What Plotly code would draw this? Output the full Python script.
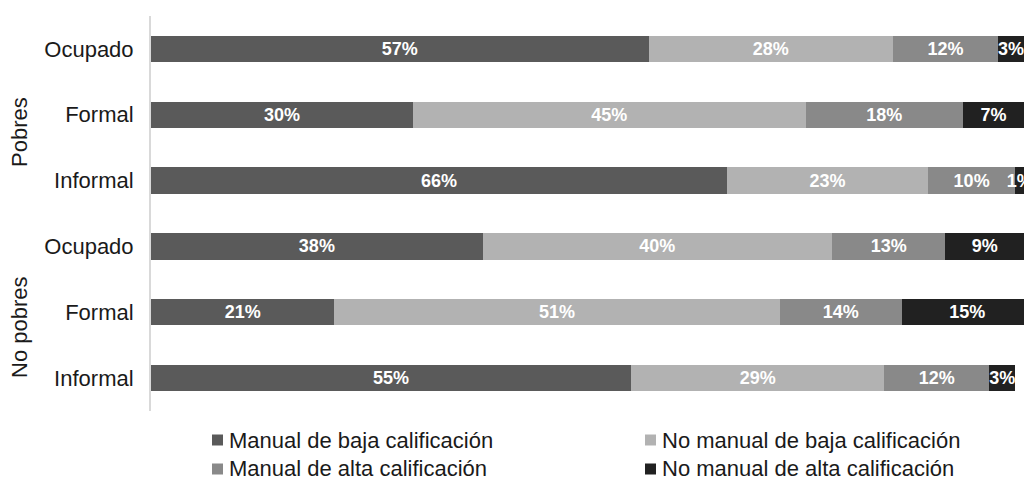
import plotly.graph_objects as go

# Occupational structure of workers, by poverty status and labour formality (%)
groups = ["Pobres", "No pobres"]
categories = ["Ocupado", "Formal", "Informal"]

series_names = [
    "Manual de baja calificación",
    "No manual de baja calificación",
    "Manual de alta calificación",
    "No manual de alta calificación",
]
series_colors = ["#5a5a5a", "#b2b2b2", "#898989", "#212121"]

# rows: Pobres (Ocupado, Formal, Informal), No pobres (Ocupado, Formal, Informal)
manual_baja = [57, 30, 66, 38, 21, 55]
no_manual_baja = [28, 45, 23, 40, 51, 29]
manual_alta = [12, 18, 10, 13, 14, 12]
no_manual_alta = [3, 7, 1, 9, 15, 3]

series_values = [manual_baja, no_manual_baja, manual_alta, no_manual_alta]

row_keys = [f"{g}|{c}" for g in groups for c in categories]
row_text = [c for g in groups for c in categories]

FONT = "Liberation Sans, Arial, sans-serif"
W, H = 1027, 483
L, R, T, B = 151, 3, 16, 72
PW, PH = W - L - R, H - T - B


def px_x(px):
    return (px - L) / PW


def px_y(py):
    return (H - B - py) / PH


fig = go.Figure()
for name, color, vals in zip(series_names, series_colors, series_values):
    fig.add_trace(go.Bar(
        y=row_keys,
        x=vals,
        name=name,
        orientation="h",
        marker=dict(color=color, line=dict(width=0)),
        texttemplate="%{x}%",
        textposition="inside",
        insidetextanchor="middle",
        textangle=0,
        insidetextfont=dict(family=FONT, size=18, color="white", weight="bold"),
        cliponaxis=True,
        showlegend=False,
        hoverinfo="skip",
    ))

# legend: two columns, two rows
leg_cols = [212, 645]
leg_rows = [440, 469]
sq = 11
annotations = []
shapes = []
for i, (name, color) in enumerate(zip(series_names, series_colors)):
    cx = leg_cols[i % 2]
    cy = leg_rows[i // 2]
    shapes.append(dict(
        type="rect", xref="paper", yref="paper",
        x0=px_x(cx), x1=px_x(cx + sq),
        y0=px_y(cy + sq / 2), y1=px_y(cy - sq / 2),
        fillcolor=color, line=dict(width=0),
    ))
    annotations.append(dict(
        text=name, xref="paper", yref="paper",
        x=px_x(cx + sq + 4), y=px_y(cy),
        xanchor="left", yanchor="middle", showarrow=False,
        font=dict(family=FONT, size=22, color="#1a1a1a"),
    ))

# group labels, rotated
for g, cy in zip(groups, [132, 327]):
    annotations.append(dict(
        text=g, xref="paper", yref="paper",
        x=px_x(19), y=px_y(cy),
        xanchor="center", yanchor="middle", showarrow=False, textangle=-90,
        font=dict(family=FONT, size=22, color="#1a1a1a"),
    ))

fig.update_layout(
    barmode="stack",
    bargap=0.6,
    width=W,
    height=H,
    margin=dict(l=L, r=R, t=T, b=B, pad=0),
    paper_bgcolor="white",
    plot_bgcolor="white",
    uniformtext=dict(minsize=18, mode="show"),
    annotations=annotations,
    shapes=shapes,
    xaxis=dict(
        range=[0, 100],
        showgrid=False,
        zeroline=False,
        showticklabels=False,
        showline=False,
        fixedrange=True,
    ),
    yaxis=dict(
        type="category",
        categoryorder="array",
        categoryarray=row_keys,
        tickvals=row_keys,
        ticktext=row_text,
        autorange="reversed",
        showgrid=False,
        zeroline=False,
        showline=True,
        linecolor="#d9d9d9",
        linewidth=2,
        ticks="",
        ticklabelstandoff=11,
        tickfont=dict(family=FONT, size=22, color="#1a1a1a"),
        fixedrange=True,
    ),
)

fig.write_html("out.html")
